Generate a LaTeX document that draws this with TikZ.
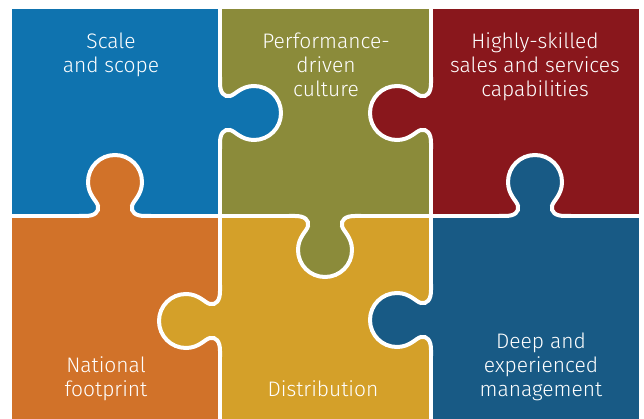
\documentclass[tikz,border=0pt]{standalone}
\usepackage{fontspec}
\setmainfont{Fira Sans}[UprightFont={* Light}]
\definecolor{pzblue}{HTML}{0F73AF}
\definecolor{pzolive}{HTML}{8B8B3A}
\definecolor{pzred}{HTML}{89171C}
\definecolor{pzorange}{HTML}{D17229}
\definecolor{pzgold}{HTML}{D4A029}
\definecolor{pznavy}{HTML}{185A85}
\begin{document}
\begin{tikzpicture}[x=1pt,y=1pt,
  seam/.style={draw=white,line width=4pt},
  piecetext/.style={text=white,align=center,anchor=base,
    font=\fontsize{21}{24}\selectfont},
  pics/knob/.style 2 args={code={
    \fill[#2] (-31,0) rectangle (31,3);
    \fill[#1] (-31,-3) -- (-30,0) .. controls (-20,0) and (-16,4) .. (-17,10)
      .. controls (-18,15) and (-27,21) .. (-27,34)
      .. controls (-27,49) and (-15,61) .. (0,61)
      .. controls (15,61) and (27,49) .. (27,34)
      .. controls (27,21) and (18,15) .. (17,10)
      .. controls (16,4) and (20,0) .. (30,0) -- (31,-3) -- cycle;
    \draw[seam] (-36,0) -- (-30,0) .. controls (-20,0) and (-16,4) .. (-17,10)
      .. controls (-18,15) and (-27,21) .. (-27,34)
      .. controls (-27,49) and (-15,61) .. (0,61)
      .. controls (15,61) and (27,49) .. (27,34)
      .. controls (27,21) and (18,15) .. (17,10)
      .. controls (16,4) and (20,0) .. (30,0) -- (36,0);
  }}]
  \useasboundingbox (0,0) rectangle (644,419);
  % the six cells
  \foreach \xa/\ya/\xb/\yb/\col in {12/203/220/410/pzblue, 220/203/431/410/pzolive,
      431/203/639/410/pzred, 12/0/220/203/pzorange, 220/0/431/203/pzgold,
      431/0/639/203/pznavy}
    \fill[\col] (\xa,\ya) rectangle (\xb,\yb);
  \draw[seam] (220,0) -- (220,410) (431,0) -- (431,410) (12,203) -- (639,203);
  % tabs
  \pic[rotate=-90] at (220,306) {knob={pzblue}{pzolive}};
  \pic[rotate=90] at (431,306) {knob={pzred}{pzolive}};
  \pic at (115,203) {knob={pzorange}{pzblue}};
  \pic[rotate=180] at (325,203) {knob={pzolive}{pzgold}};
  \pic at (535,203) {knob={pznavy}{pzred}};
  \pic[rotate=90] at (220,98) {knob={pzgold}{pzorange}};
  \pic[rotate=90] at (431,99) {knob={pznavy}{pzgold}};
  % texts
  \node[piecetext] (scale) at (111,346) {Scale\\and scope};
  \node[piecetext] (culture) at (326,322) {Performance-\\driven\\culture};
  \node[piecetext] (skills) at (535,322) {Highly-skilled\\sales and services\\capabilities};
  \node[piecetext] (footprint) at (106,22) {National\\footprint};
  \node[piecetext] (distrib) at (323,22) {Distribution};
  \node[piecetext] (mgmt) at (541,22) {Deep and\\experienced\\management};
\end{tikzpicture}
\end{document}
